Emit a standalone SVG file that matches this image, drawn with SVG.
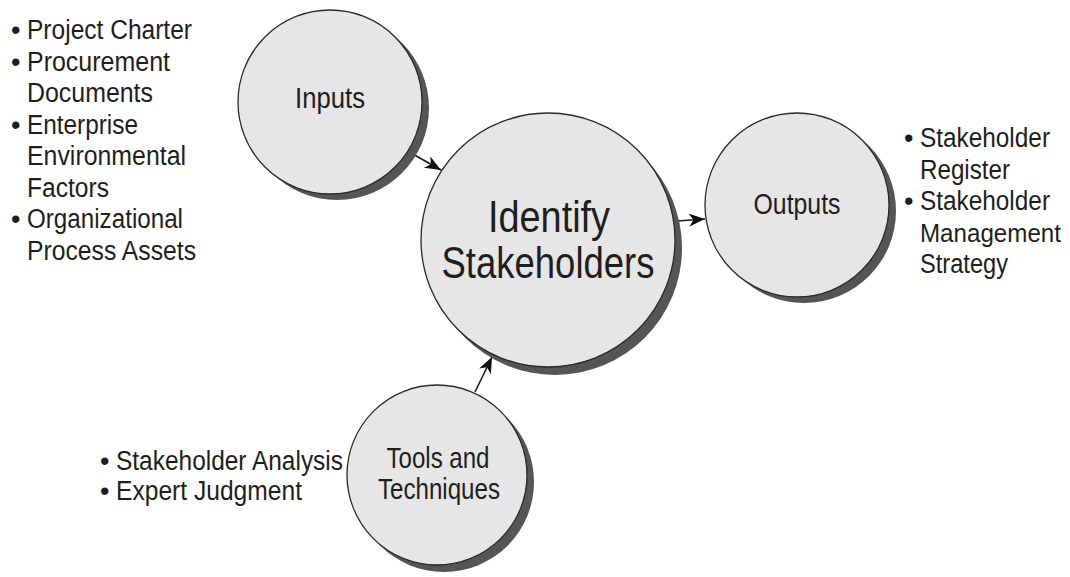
<svg xmlns="http://www.w3.org/2000/svg" width="1070" height="577" viewBox="0 0 1070 577">
<style>
.bg{fill:#ffffff}
.shadow{fill:#555555}
.circ{fill:#e6e6e6;stroke:#2a2a2a;stroke-width:1.3}
.t{font-family:"Liberation Sans",Arial,sans-serif;fill:#1e1e1e}
.lbl{font-size:29px;text-anchor:middle}
.big{font-size:44px;text-anchor:middle}
.li{font-size:27px}
.conn{stroke:#1a1a1a;stroke-width:1.6;fill:none}
</style>
<defs>
<marker id="ah" markerUnits="userSpaceOnUse" markerWidth="18" markerHeight="14" refX="16" refY="6.5" orient="auto">
<path d="M0,0 L16,6.5 L0,13 L4.5,6.5 z" fill="#111"/>
</marker>
</defs>
<rect class="bg" x="0" y="0" width="1070" height="577"/>

<g id="connectors">
<line class="conn" x1="404" y1="149" x2="441" y2="170" marker-end="url(#ah)"/>
<line class="conn" x1="677" y1="221" x2="705" y2="219" marker-end="url(#ah)"/>
<line class="conn" x1="475" y1="392" x2="492" y2="357" marker-end="url(#ah)"/>
</g>

<g id="inputs">
<circle class="shadow" cx="337" cy="108" r="92"/>
<circle class="circ" cx="330" cy="102" r="92"/>
<text class="t lbl" x="330" y="108" textLength="70" lengthAdjust="spacingAndGlyphs">Inputs</text>
</g>

<g id="identify">
<circle class="shadow" cx="555" cy="248" r="127"/>
<circle class="circ" cx="548" cy="240" r="127"/>
<text class="t big" x="549" y="232" textLength="122" lengthAdjust="spacingAndGlyphs">Identify</text>
<text class="t big" x="548" y="278" textLength="213" lengthAdjust="spacingAndGlyphs">Stakeholders</text>
</g>

<g id="outputs">
<circle class="shadow" cx="804" cy="211" r="92"/>
<circle class="circ" cx="797" cy="205" r="92"/>
<text class="t lbl" x="797" y="214" textLength="87" lengthAdjust="spacingAndGlyphs">Outputs</text>
</g>

<g id="tools">
<circle class="shadow" cx="444" cy="482" r="90"/>
<circle class="circ" cx="437" cy="475" r="90"/>
<text class="t lbl" x="438" y="468" textLength="103" lengthAdjust="spacingAndGlyphs">Tools and</text>
<text class="t lbl" x="439" y="499" textLength="122" lengthAdjust="spacingAndGlyphs">Techniques</text>
</g>

<g id="inputs-list" class="t li">
<text x="11" y="39">•</text><text x="27" y="39" textLength="165" lengthAdjust="spacingAndGlyphs">Project Charter</text>
<text x="11" y="70.5">•</text><text x="27" y="70.5" textLength="143" lengthAdjust="spacingAndGlyphs">Procurement</text>
<text x="27" y="102" textLength="126" lengthAdjust="spacingAndGlyphs">Documents</text>
<text x="11" y="133.5">•</text><text x="27" y="133.5" textLength="111" lengthAdjust="spacingAndGlyphs">Enterprise</text>
<text x="27" y="165" textLength="159" lengthAdjust="spacingAndGlyphs">Environmental</text>
<text x="27" y="196.5" textLength="82" lengthAdjust="spacingAndGlyphs">Factors</text>
<text x="11" y="228">•</text><text x="27" y="228" textLength="156" lengthAdjust="spacingAndGlyphs">Organizational</text>
<text x="27" y="259.5" textLength="169" lengthAdjust="spacingAndGlyphs">Process Assets</text>
</g>

<g id="outputs-list" class="t li">
<text x="904" y="147">•</text><text x="920" y="147" textLength="130" lengthAdjust="spacingAndGlyphs">Stakeholder</text>
<text x="920" y="178.5" textLength="90" lengthAdjust="spacingAndGlyphs">Register</text>
<text x="904" y="210">•</text><text x="920" y="210" textLength="130" lengthAdjust="spacingAndGlyphs">Stakeholder</text>
<text x="920" y="241.5" font-size="25" textLength="141" lengthAdjust="spacingAndGlyphs">Management</text>
<text x="920" y="273" textLength="88" lengthAdjust="spacingAndGlyphs">Strategy</text>
</g>

<g id="tools-list" class="t li">
<text x="100" y="470">•</text><text x="116" y="470" textLength="227" lengthAdjust="spacingAndGlyphs">Stakeholder Analysis</text>
<text x="100" y="500">•</text><text x="116" y="500" textLength="186" lengthAdjust="spacingAndGlyphs">Expert Judgment</text>
</g>
</svg>
